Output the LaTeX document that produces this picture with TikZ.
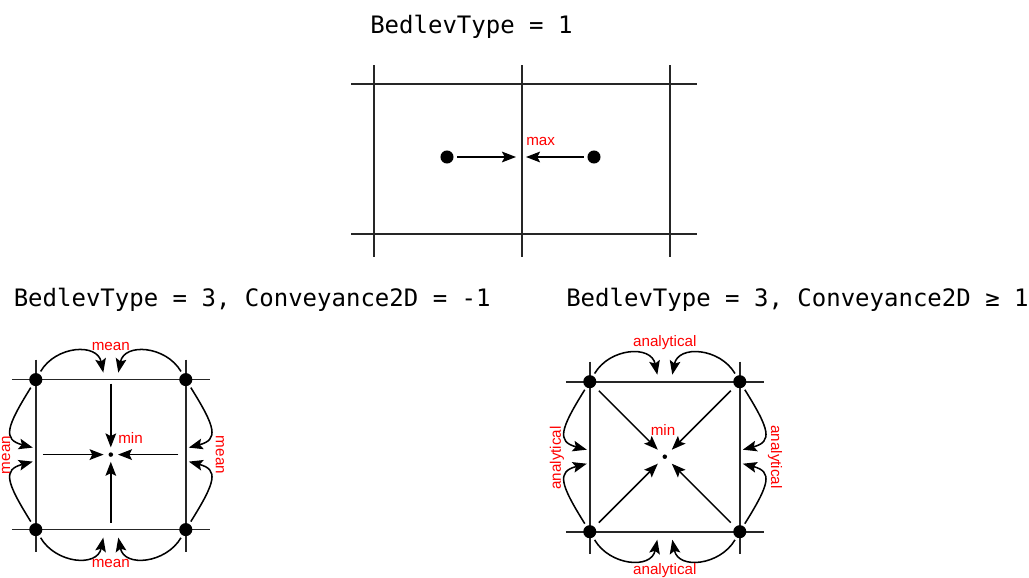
\documentclass[tikz,border=0pt]{standalone}
\usepackage{fontspec}
\setmainfont{Liberation Sans}
\newfontfamily\codefont{DejaVu Sans Mono}
\usepackage{tikz}
\usetikzlibrary{arrows.meta,calc,positioning}

\tikzset{
  gridline/.style={line width=1.25pt, black!85},
  dot/.style={circle, fill, inner sep=0pt, minimum size=9.8pt},
  pin/.style={circle, fill, inner sep=0pt, minimum size=3.4pt},
  flow/.style={-{Stealth[length=10.5pt,width=8pt,inset=2pt]}, line width=1.15pt},
  lbl/.style={text=red, font=\fontsize{11.4}{13}\selectfont, inner sep=0pt},
  title/.style={anchor=base west, font=\codefont\fontsize{18}{20}\selectfont, inner sep=0pt},
}

\begin{document}
\begin{tikzpicture}[x=0.75pt,y=-0.75pt]
\useasboundingbox (0,0) rectangle (1029,578);
% BedlevType = 1
\node[title] (t1) at (370,33.3) {BedlevType = 1};
\draw[gridline] (351,84) -- (697,84);
\draw[gridline] (351,234) -- (697,234);
\foreach \x in {374,522,670}
    \draw[gridline] (\x,65) -- (\x,257);
\node[dot] (p1) at (447,157) {};
\node[dot] (p2) at (594,157) {};
\coordinate (f1) at (516,157);
\coordinate (f2) at (526,157);
\draw[flow, shorten <=2.5pt] (p1) -- (f1);
\draw[flow, shorten <=2.5pt] (p2) -- (f2);
\node[lbl, anchor=west] (mx) at (526,141) {max};
% BedlevType = 3
\node[title] (t2) at (13.5,306.5) {BedlevType = 3, Conveyance2D = -1};
\node[title] (t3) at (566,306.5) {BedlevType = 3, Conveyance2D ≥ 1};
\foreach \d/\cx/\cy in {L/110.8/454.6, R/664.8/456.7} {
    \draw[gridline] (\cx-99,\cy-75) -- (\cx+99,\cy-75);
    \draw[gridline] (\cx-99,\cy+75) -- (\cx+99,\cy+75);
    \draw[gridline] (\cx-75,\cy-95) -- (\cx-75,\cy+97);
    \draw[gridline] (\cx+75,\cy-95) -- (\cx+75,\cy+97);
    \node[dot] (\d1) at (\cx-75,\cy-75) {};
    \node[dot] (\d2) at (\cx+75,\cy-75) {};
    \node[dot] (\d3) at (\cx+75,\cy+75) {};
    \node[dot] (\d4) at (\cx-75,\cy+75) {};
    \node[pin] (\d-c) at (\cx,\cy) {};
    \foreach \e/\ex/\ey in {tl/-7.5/-82, tr/7.5/-82, bl/-7.5/83, br/7.5/83,
                            lt/-78/-7, lb/-78/7, rt/78/-7, rb/78/7}
        \coordinate (\d-\e) at (\cx+\ex,\cy+\ey);
    % edge values
    \foreach \c/\s/\e in {1/1/tl, 2/-1/tr}
        \draw[flow, shorten <=2pt] (\d\c) .. controls +(20*\s,-34) and +(-6*\s,-30) .. (\d-\e);
    \foreach \c/\s/\e in {4/1/bl, 3/-1/br}
        \draw[flow, shorten <=2pt] (\d\c) .. controls +(20*\s,34) and +(-6*\s,30) .. (\d-\e);
    \foreach \c/\s/\e in {1/1/lt, 4/-1/lb}
        \draw[flow, shorten <=2pt] (\d\c) .. controls +(-30,48*\s) and +(-30,-8*\s) .. (\d-\e);
    \foreach \c/\s/\e in {2/1/rt, 3/-1/rb}
        \draw[flow, shorten <=2pt] (\d\c) .. controls +(30,48*\s) and +(30,-8*\s) .. (\d-\e);
}
% mean
\foreach \e/\ex/\ey in {a1/0/-71, a2/-68/0, a3/67.5/0, a4/0/68}
    \coordinate (L-\e) at ($(L-c)+(\ex,\ey)$);
\foreach \e in {a1,a2,a3,a4}
    \draw[flow, shorten >=3.5pt] (L-\e) -- (L-c);
\node[lbl] (m1) at (110.8,346) {mean};
\node[lbl] (m2) at (110.8,563) {mean};
\node[lbl, rotate=90] (m3) at (6,455) {mean};
\node[lbl, rotate=-90] (m4) at (220,455) {mean};
\node[lbl, anchor=west] (mn1) at (118,438) {min};
% analytical
\foreach \c in {1,2,3,4}
    \draw[flow, shorten <=4.5pt, shorten >=5.5pt] (R\c) -- (R-c);
\node[lbl] (n1) at (664.8,343) {analytical};
\node[lbl] (n2) at (664.8,571) {analytical};
\node[lbl, rotate=90] (n3) at (557,458) {analytical};
\node[lbl, rotate=-90] (n4) at (775,457) {analytical};
\node[lbl] (mn2) at (663,430) {min};
\end{tikzpicture}
\end{document}
